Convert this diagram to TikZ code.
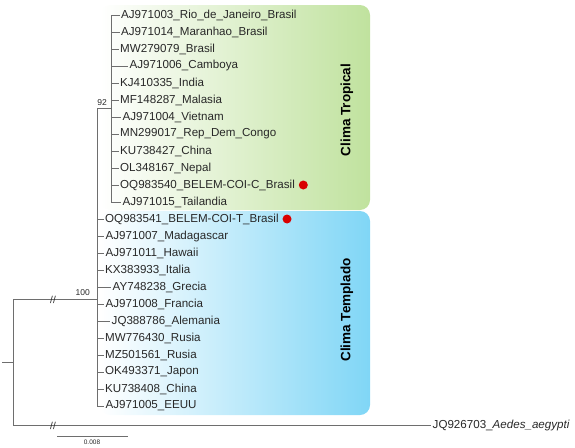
\documentclass[tikz,border=0pt]{standalone}
\usepackage{fontspec}
\setmainfont{Liberation Sans}
\usepackage{tikz}
\usetikzlibrary{positioning}

\definecolor{tropgreen}{RGB}{192,226,158}
\definecolor{templblue}{RGB}{128,214,246}
\definecolor{branchgray}{RGB}{110,110,110}
\definecolor{labelgray}{RGB}{40,40,40}

\begin{document}
\begin{tikzpicture}[
    x=1pt, y=-1pt,      % <── one unit = one pixel of the figure
    leaf_node/.style={anchor=west, inner sep=1.5pt, text=labelgray, font=\fontsize{11.6}{13}\selectfont},
    boot_node/.style={inner sep=0pt, text=labelgray, font=\fontsize{8.5}{9}\selectfont},
    clima_node/.style={rotate=90, text=black, font=\bfseries\fontsize{13.5}{15}\selectfont},
    dot_node/.style={circle, fill=red!85!black, inner sep=0pt, minimum size=9pt},
    brk_node/.style={inner sep=0pt, text=labelgray, font=\fontsize{10}{11}\selectfont},
    branch/.style={draw=branchgray, line width=0.75pt}
    ]
    \useasboundingbox (0,0) rectangle (575,447);

    % Climate boxes
    \shade[left color=white, middle color=tropgreen!32, right color=tropgreen, rounded corners=10pt] (100,5) rectangle (370,210);
    \shade[left color=white, middle color=templblue!32, right color=templblue, rounded corners=10pt] (100,211) rectangle (370,415);
    \node[clima_node] (tropical) at (347,110) {Clima Tropical};
    \node[clima_node] (templado) at (347,310) {Clima Templado};

    % Internal nodes
    \coordinate (root) at (13,362);
    \coordinate (stub) at (2,362);
    \coordinate (n100) at (97,299);
    \coordinate (n92) at (111,108.5);

    % Leaves, tropical clade
    \node[leaf_node] (t1) at (119.5,15) {AJ971003\_Rio\_de\_Janeiro\_Brasil};
    \node[leaf_node] (t2) at (119.5,32) {AJ971014\_Maranhao\_Brasil};
    \node[leaf_node] (t3) at (118.5,49) {MW279079\_Brasil};
    \node[leaf_node] (t4) at (128,66) {AJ971006\_Camboya};
    \node[leaf_node] (t5) at (118.5,83) {KJ410335\_India};
    \node[leaf_node] (t6) at (118.5,100) {MF148287\_Malasia};
    \node[leaf_node] (t7) at (121,117) {AJ971004\_Vietnam};
    \node[leaf_node] (t8) at (118.5,134) {MN299017\_Rep\_Dem\_Congo};
    \node[leaf_node] (t9) at (118.5,151) {KU738427\_China};
    \node[leaf_node] (t10) at (118.5,168) {OL348167\_Nepal};
    \node[leaf_node] (t11) at (118.5,185) {OQ983540\_BELEM-COI-C\_Brasil};
    \node[leaf_node] (t12) at (121,202) {AJ971015\_Tailandia};
    \node[dot_node, right=2pt of t11] (dotC) {};

    % Leaves, temperate clade
    \node[leaf_node] (e1) at (103.5,219) {OQ983541\_BELEM-COI-T\_Brasil};
    \node[leaf_node] (e2) at (104,236) {AJ971007\_Madagascar};
    \node[leaf_node] (e3) at (104,253) {AJ971011\_Hawaii};
    \node[leaf_node] (e4) at (103.5,270) {KX383933\_Italia};
    \node[leaf_node] (e5) at (111,287) {AY748238\_Grecia};
    \node[leaf_node] (e6) at (104,304) {AJ971008\_Francia};
    \node[leaf_node] (e7) at (110,321) {JQ388786\_Alemania};
    \node[leaf_node] (e8) at (103.5,338) {MW776430\_Rusia};
    \node[leaf_node] (e9) at (103.5,355) {MZ501561\_Rusia};
    \node[leaf_node] (e10) at (103.5,372) {OK493371\_Japon};
    \node[leaf_node] (e11) at (103.5,389) {KU738408\_China};
    \node[leaf_node] (e12) at (104,406) {AJ971005\_EEUU};
    \node[dot_node, right=2pt of e1] (dotT) {};

    % Outgroup
    \node[leaf_node] (og) at (431,425) {JQ926703\_\textit{Aedes\_aegypti}};

    % Branches
    \draw[branch] (stub) -- (root);
    \draw[branch] (root) |- (n100);
    \draw[branch] (root) |- (og.west);
    \draw[branch] (n100) |- (n92);
    \foreach \leaf in {e1,e2,e3,e4,e5,e6,e7,e8,e9,e10,e11,e12}
        \draw[branch] (n100) |- (\leaf.west);
    \foreach \leaf in {t1,t2,t3,t4,t5,t6,t7,t8,t9,t10,t11,t12}
        \draw[branch] (n92) |- (\leaf.west);

    % Bootstrap values and breaks
    \node[boot_node, above left=2.5pt and 4pt of n92] (b92) {92};
    \node[boot_node, above left=3pt and 7pt of n100] (b100) {100};
    \node[brk_node] (brk1) at (53,300) {//};
    \node[brk_node] (brk2) at (53,426) {//};

    % Scale bar
    \coordinate (sbl) at (57,436);
    \coordinate (sbr) at (128,436);
    \draw[branch, line width=0.6pt] (sbl) -- (sbr);
    \node[boot_node, font=\fontsize{6.5}{7}\selectfont] (sblabel) at (92,442) {0.008};
\end{tikzpicture}
\end{document}
